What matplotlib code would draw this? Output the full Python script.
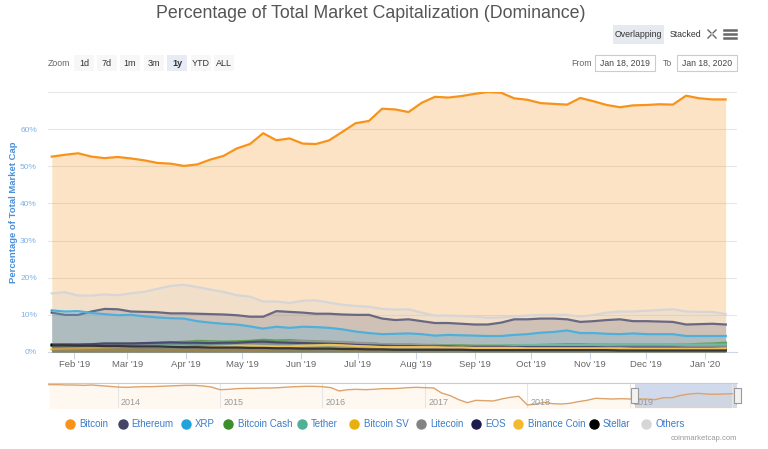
import numpy as np
import pandas as pd
import matplotlib
matplotlib.use("Agg")
import matplotlib.pyplot as plt
import matplotlib.dates as mdates
from matplotlib.patches import Rectangle
from matplotlib.lines import Line2D

plt.rcParams['font.family'] = ['Liberation Sans', 'DejaVu Sans']

# -------------------------
# DATOS (semanal, 20 ene 2019 - 12 ene 2020, % de dominancia)
# -------------------------
fechas = pd.date_range('2019-01-20', periods=52, freq='7D')

bitcoin = [52.6, 53.1, 53.5, 52.6, 52.2, 52.5, 52.1, 51.6, 50.9, 50.7, 50.1, 50.5,
           51.8, 52.8, 54.8, 56.0, 58.9, 57.0, 57.5, 56.1, 56.0, 57.0, 59.3, 61.6,
           62.2, 65.5, 65.3, 64.6, 67.1, 68.7, 68.5, 68.9, 69.5, 70.0, 69.8, 68.3,
           67.9, 67.0, 66.8, 66.6, 68.4, 67.5, 66.5, 65.9, 66.4, 66.5, 66.7, 66.6,
           69.0, 68.3, 68.0, 68.0]
ethereum = [10.6, 10.0, 10.0, 10.9, 11.6, 11.5, 10.9, 10.8, 10.7, 10.4, 10.4, 10.3,
            10.2, 10.1, 9.9, 9.5, 9.5, 11.0, 10.8, 10.6, 10.3, 10.3, 10.1, 10.0,
            10.0, 9.0, 8.6, 8.8, 8.3, 7.8, 7.8, 7.6, 7.4, 7.4, 7.9, 8.8,
            8.8, 9.0, 9.0, 8.8, 8.1, 8.3, 8.6, 8.8, 8.3, 8.3, 8.2, 8.1,
            7.4, 7.5, 7.6, 7.4]
xrp = [11.2, 10.9, 11.0, 10.5, 10.2, 9.9, 10.0, 9.6, 9.3, 9.1, 9.0, 8.3,
       7.9, 7.6, 7.4, 6.9, 6.3, 6.8, 6.5, 6.8, 6.7, 6.5, 6.1, 5.5,
       5.1, 4.8, 4.9, 5.0, 4.8, 4.4, 4.6, 4.5, 4.4, 4.3, 4.3, 4.6,
       4.8, 5.2, 5.4, 5.8, 5.1, 5.1, 4.9, 4.8, 5.0, 4.8, 4.8, 4.8,
       4.3, 4.3, 4.3, 4.3]
bitcoin_cash = [2.0, 2.1, 2.0, 2.1, 2.2, 2.2, 2.2, 2.2, 2.3, 2.4, 2.7, 3.0,
                2.9, 2.8, 2.9, 3.0, 3.3, 3.1, 3.2, 3.0, 2.9, 2.7, 2.6, 2.4,
                2.3, 2.1, 2.0, 2.0, 1.9, 1.9, 1.8, 1.8, 1.7, 1.7, 1.7, 1.8,
                1.8, 1.9, 2.0, 2.1, 2.1, 2.0, 2.0, 1.9, 1.9, 1.9, 1.9, 2.0,
                2.0, 2.2, 2.3, 2.5]
tether = [1.7, 1.8, 1.9, 1.9, 1.9, 1.9, 1.9, 2.0, 2.0, 2.0, 1.9, 1.9,
          1.8, 1.8, 1.6, 1.5, 1.4, 1.3, 1.4, 1.4, 1.4, 1.3, 1.2, 1.3,
          1.4, 1.4, 1.5, 1.5, 1.5, 1.5, 1.6, 1.6, 1.6, 1.6, 1.7, 1.8,
          1.9, 1.9, 1.9, 1.9, 1.9, 2.0, 2.0, 2.1, 2.1, 2.1, 2.1, 2.1,
          2.0, 2.0, 2.0, 2.0]
bitcoin_sv = [0.7, 0.7, 0.6, 0.6, 0.6, 0.6, 0.5, 0.5, 0.5, 0.6, 0.5, 0.5,
              0.5, 0.5, 0.4, 0.4, 0.5, 0.7, 0.7, 0.8, 0.8, 0.8, 0.7, 0.7,
              0.6, 0.6, 0.5, 0.5, 0.5, 0.5, 0.5, 0.5, 0.4, 0.4, 0.4, 0.4,
              0.4, 0.4, 0.4, 0.4, 0.4, 0.4, 0.4, 0.4, 0.4, 0.4, 0.4, 0.4,
              0.5, 0.5, 0.6, 0.7]
litecoin = [1.6, 1.7, 1.8, 1.9, 1.9, 1.9, 2.0, 2.1, 2.4, 2.6, 2.8, 2.7,
            2.6, 2.5, 2.5, 2.5, 2.6, 2.6, 2.8, 2.9, 2.8, 2.8, 2.7, 2.5,
            2.4, 2.1, 2.0, 2.0, 1.9, 1.8, 1.7, 1.6, 1.5, 1.5, 1.6, 1.5,
            1.5, 1.5, 1.5, 1.4, 1.4, 1.4, 1.3, 1.3, 1.3, 1.3, 1.3, 1.3,
            1.3, 1.4, 1.5, 1.6]
eos = [2.0, 2.0, 2.0, 2.1, 2.3, 2.3, 2.3, 2.4, 2.5, 2.6, 2.5, 2.5,
       2.4, 2.5, 2.5, 2.7, 2.8, 2.6, 2.5, 2.4, 2.3, 2.2, 2.1, 1.9,
       1.8, 1.7, 1.6, 1.6, 1.5, 1.5, 1.5, 1.4, 1.4, 1.4, 1.4, 1.3,
       1.3, 1.3, 1.3, 1.3, 1.3, 1.3, 1.2, 1.2, 1.2, 1.2, 1.2, 1.2,
       1.1, 1.1, 1.1, 1.1]
binance_coin = [0.8, 0.9, 1.0, 1.1, 1.2, 1.3, 1.3, 1.4, 1.4, 1.5, 1.4, 1.3,
                1.4, 1.5, 1.7, 1.7, 1.6, 1.5, 1.5, 1.7, 1.8, 1.9, 1.8, 1.6,
                1.5, 1.3, 1.3, 1.3, 1.3, 1.3, 1.2, 1.2, 1.1, 1.1, 1.1, 1.1,
                1.0, 1.0, 1.0, 1.0, 1.0, 1.0, 1.0, 1.0, 0.9, 0.9, 0.9, 0.9,
                0.9, 0.9, 0.9, 1.0]
stellar = [1.8, 1.8, 1.7, 1.7, 1.6, 1.6, 1.5, 1.5, 1.5, 1.4, 1.3, 1.3,
           1.2, 1.2, 1.2, 1.1, 1.1, 1.0, 1.0, 0.9, 0.9, 0.9, 0.8, 0.8,
           0.7, 0.7, 0.6, 0.6, 0.6, 0.6, 0.6, 0.6, 0.5, 0.5, 0.5, 0.5,
           0.5, 0.5, 0.5, 0.5, 0.5, 0.5, 0.5, 0.4, 0.4, 0.4, 0.4, 0.4,
           0.4, 0.4, 0.4, 0.4]
others = [15.8, 16.1, 15.2, 15.2, 15.5, 15.3, 15.8, 16.2, 17.0, 17.8, 18.1, 17.5,
          16.8, 16.2, 15.3, 14.9, 13.6, 13.6, 13.2, 13.8, 13.9, 13.3, 12.7, 12.4,
          12.2, 11.6, 11.4, 11.5, 10.6, 9.8, 9.8, 9.7, 9.5, 9.2, 9.3, 9.6,
          9.8, 10.0, 10.0, 10.0, 9.5, 10.0, 10.6, 10.9, 10.9, 11.1, 11.3, 11.5,
          10.9, 10.8, 10.8, 10.2]

nombres = ['Bitcoin', 'Ethereum', 'XRP', 'Bitcoin Cash', 'Tether', 'Bitcoin SV',
           'Litecoin', 'EOS', 'Binance Coin', 'Stellar', 'Others']
series = [bitcoin, ethereum, xrp, bitcoin_cash, tether, bitcoin_sv,
          litecoin, eos, binance_coin, stellar, others]
colores = ['#f7931a', '#454466', '#23a3dc', '#3c8e29', '#50af95', '#e8b00c',
           '#838383', '#1b1c4d', '#f3ba2f', '#000000', '#d6d6d6']

# navegador: dominancia de Bitcoin mensual (may 2013 - ene 2020)
nav_fechas = pd.date_range('2013-05-01', '2020-01-01', freq='MS')
nav_bitcoin = [95, 95, 94, 94, 93, 94, 92, 90,
               88, 87, 88, 89, 89, 90, 91, 92, 93, 93, 91, 88,
               80, 81, 83, 84, 84, 85, 85, 86, 88, 89, 90, 90,
               89, 86, 76, 80, 81, 80, 81, 83, 83, 84, 86, 87,
               86, 85, 70, 62, 50, 41, 48, 47, 46, 52, 57, 60,
               34, 37, 42, 38, 37, 39, 44, 48, 54, 53, 52, 53,
               52, 52, 52, 50, 56, 56, 63, 67, 69, 67, 66, 67,
               68]

meses = pd.date_range('2019-02-01', '2020-01-01', freq='MS')
etiquetas_meses = [d.strftime("%b '%y") for d in meses]
anios = pd.date_range('2014-01-01', '2020-01-01', freq='YS')

W, H = 768, 449
def fx(x): return x / W
def fy(y): return 1 - y / H

fig = plt.figure(figsize=(7.68, 4.49), dpi=100)

# -------------------------
# GRÁFICO PRINCIPAL
# -------------------------
ax = fig.add_axes([fx(48), fy(352), fx(737) - fx(48), fy(92) - fy(352)])
for i, (nombre, vals, c) in enumerate(zip(nombres, series, colores)):
    ax.fill_between(fechas, 0, vals, color=c, alpha=0.25, lw=0, zorder=2 + 2 * i)
    ax.plot(fechas, vals, color=c, lw=1.6, zorder=3 + 2 * i, solid_joinstyle='round')

ax.set_xlim(pd.Timestamp('2019-01-18'), pd.Timestamp('2020-01-18'))
ax.set_ylim(0, 70)
ax.set_yticks(range(0, 70, 10))
ax.set_yticklabels([f'{v}%' for v in range(0, 70, 10)], color='#7fb2e5', fontsize=6)
ax.set_xticks(meses)
ax.set_xticklabels(etiquetas_meses, color='#666666', fontsize=6.8)
ax.tick_params(axis='y', length=0, pad=8)
ax.tick_params(axis='x', length=5, color='#ccd6eb', pad=1)
ax.grid(axis='y', color='#e6e6e6', lw=0.8, zorder=0)
ax.axhline(70, color='#e6e6e6', lw=0.8, zorder=0)
for s in ['top', 'right', 'left']:
    ax.spines[s].set_visible(False)
ax.spines['bottom'].set_color('#ccd6eb')

fig.text(fx(14), fy(212), 'Percentage of Total Market Cap', rotation=90,
         ha='center', va='center', color='#4a90d9', fontsize=6.8, fontweight='bold')

# -------------------------
# NAVEGADOR
# -------------------------
nav = fig.add_axes([fx(48), fy(408), fx(737) - fx(48), fy(383) - fy(408)])
nav.fill_between(nav_fechas, 0, nav_bitcoin, color='#f7931a', alpha=0.06, lw=0)
nav.plot(nav_fechas, nav_bitcoin, color='#dca36a', lw=1)
nav.set_xlim(pd.Timestamp('2013-04-28'), pd.Timestamp('2020-01-18'))
nav.set_ylim(25, 100)
nav.set_yticks([])
nav.set_xticks(anios)
nav.set_xticklabels([])
nav.tick_params(axis='x', length=0)
nav.grid(axis='x', color='#e6e6e6', lw=0.8)
for s in ['bottom', 'right', 'left']:
    nav.spines[s].set_visible(False)
nav.spines['top'].set_color('#cccccc')
for a in anios:
    nav.text(a + pd.Timedelta(days=12), 27, str(a.year), color='#999999',
             fontsize=6.5, va='bottom', ha='left', clip_on=True)
nav.axvspan(pd.Timestamp('2019-01-18'), pd.Timestamp('2020-01-18'),
            color='#6685c2', alpha=0.3, lw=0)
for hx in [631, 734]:
    fig.patches.append(Rectangle((fx(hx), fy(403)), fx(7), fy(388) - fy(403),
                                 transform=fig.transFigure, facecolor='#f2f2f2',
                                 edgecolor='#999999', lw=0.8, zorder=10))

# -------------------------
# TÍTULO Y CONTROLES
# -------------------------
fig.text(fx(371), fy(13), 'Percentage of Total Market Capitalization (Dominance)',
         ha='center', va='center', fontsize=12.8, color='#555555')

fig.patches.append(Rectangle((fx(613), fy(44)), fx(51), fy(25) - fy(44),
                             transform=fig.transFigure, facecolor='#e6e9ef', lw=0))
fig.text(fx(638.5), fy(34.5), 'Overlapping', ha='center', va='center', fontsize=6.3, color='#333333')
fig.text(fx(685), fy(34.5), 'Stacked', ha='center', va='center', fontsize=6.3, color='#333333')
# icono pantalla completa
for (x0, y0, dx, dy) in [(708, 30, 1, 1), (716, 30, -1, 1), (708, 38, 1, -1), (716, 38, -1, -1)]:
    fig.lines.append(Line2D([fx(x0), fx(x0 + 3 * dx)], [fy(y0), fy(y0 + 3 * dy)],
                            transform=fig.transFigure, color='#666666', lw=1))
# icono menú
for yy in [30, 34, 38]:
    fig.lines.append(Line2D([fx(724), fx(736)], [fy(yy), fy(yy)],
                            transform=fig.transFigure, color='#666666', lw=1.8))

fig.text(fx(59), fy(63.5), 'Zoom', ha='center', va='center', fontsize=6.3, color='#666666')
botones = ['1d', '7d', '1m', '3m', '1y', 'YTD', 'ALL']
centros = [84, 107, 130, 154, 177, 201, 224]
for b, cx in zip(botones, centros):
    fondo = '#e6ebf5' if b == '1y' else '#f7f7f7'
    fig.patches.append(Rectangle((fx(cx - 10), fy(71)), fx(20), fy(55) - fy(71),
                                 transform=fig.transFigure, facecolor=fondo, lw=0))
    fig.text(fx(cx), fy(63.5), b, ha='center', va='center', fontsize=6.5, color='#333333',
             fontweight='bold' if b == '1y' else 'normal')

fig.text(fx(581), fy(63.5), 'From', ha='center', va='center', fontsize=6.3, color='#666666')
fig.text(fx(667), fy(63.5), 'To', ha='center', va='center', fontsize=6.3, color='#666666')
for x0, txt in [(595, 'Jan 18, 2019'), (677, 'Jan 18, 2020')]:
    fig.patches.append(Rectangle((fx(x0), fy(71)), fx(60), fy(55) - fy(71),
                                 transform=fig.transFigure, facecolor='white',
                                 edgecolor='#cccccc', lw=0.8))
    fig.text(fx(x0 + 30), fy(63.5), txt, ha='center', va='center', fontsize=6.2, color='#444444')

# -------------------------
# LEYENDA
# -------------------------
marcadores_x = [70, 123, 186, 228, 302, 354, 421, 476, 518, 594, 646]
textos_x = [79, 131, 195, 238, 311, 364, 430, 485, 528, 603, 655]
for nombre, c, mx, tx in zip(nombres, colores, marcadores_x, textos_x):
    fig.lines.append(Line2D([fx(mx)], [fy(424)], transform=fig.transFigure, marker='o',
                            markersize=6.5, color=c, lw=0))
    fig.text(fx(tx), fy(424), nombre, ha='left', va='center', fontsize=7, color='#3d7cc9')

fig.text(fx(737), fy(438), 'coinmarketcap.com', ha='right', va='center',
         fontsize=5.5, color='#999999')

fig.savefig('out.png', dpi=100)
